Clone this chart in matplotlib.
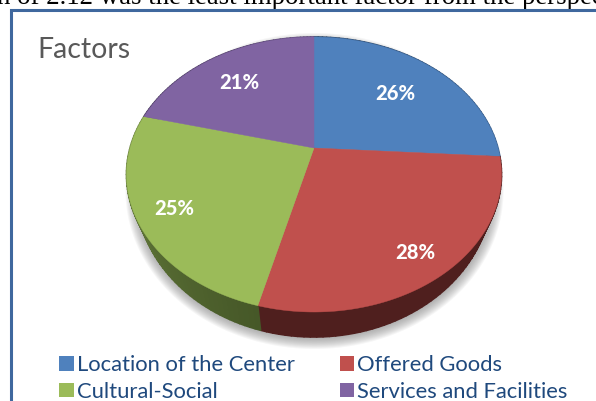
import numpy as np
import matplotlib
matplotlib.use("Agg")
import matplotlib.pyplot as plt
from matplotlib.patches import Polygon, Patch

# data
categories = ["Location of the Center", "Offered Goods", "Cultural-Social", "Services and Facilities"]
values = [26, 28, 25, 21]
title = "Factors"
header_text = "n of 2.12 was the least important factor from the perspective"

# style
colors = ["#4F81BD", "#C0504D", "#9BBB59", "#8064A2"]
side_light = ["#3A5F8C", "#4F1F1E", "#6F8742", "#5E4A78"]
side_dark = ["#2A4566", "#4F1F1E", "#465828", "#45365A"]
label_radius = [0.68, 0.83, 0.80, 0.71]

APEX_X, APEX_Y = 314.0, 148.0
K, A, B = 0.1927, 184.0, 132.4
EC_X, EC_Y, ERX, ERY = 313.5, 174.5, 187.5, 137.5
BC_Y, BRX, BRY = 190.0, 178.0, 147.0


def project(theta, r=1.0):
    u, v = r * np.sin(theta), r * np.cos(theta)
    d = 1 + K * v
    return APEX_X + A * u / d, APEX_Y - B * v / d


def lower(x, y):
    return EC_X + (x - EC_X) * BRX / ERX, BC_Y + (y - EC_Y) * BRY / ERY


fig = plt.figure(figsize=(5.96, 4.01), dpi=100)
ax = fig.add_axes([0, 0, 1, 1])
ax.set_xlim(0, 596)
ax.set_ylim(401, 0)
ax.axis("off")

# document line cut off above the chart
ax.text(-3, 4.5, header_text, family="Liberation Serif", fontsize=19.3, color="black",
        va="baseline", ha="left", clip_on=True, zorder=1)

# chart frame
ax.plot([10.5, 10.5, 600], [405, 9.5, 9.5], color="#3F689E", lw=2.2, solid_joinstyle="miter", zorder=2)
ax.text(37, 49.5, title, family="Lato", fontsize=20.5, color="#595959", va="center", ha="left", zorder=5)

# soft shadow
phi = np.linspace(0, 2 * np.pi, 241)
for i in range(12):
    grow = 11 - i
    sx = EC_X + 1 + (BRX + grow) * np.sin(phi)
    sy = BC_Y + 1 + (BRY + grow) * np.cos(phi)
    ax.add_patch(Polygon(np.c_[sx, sy], closed=True, fc="#808080", ec="none", alpha=0.07, zorder=3))

frac = np.cumsum([0] + values) / sum(values)
angles = 2 * np.pi * frac

# side wall
for i in range(len(values)):
    t = np.linspace(angles[i], angles[i + 1], 61)
    c0 = np.array(matplotlib.colors.to_rgb(side_light[i]))
    c1 = np.array(matplotlib.colors.to_rgb(side_dark[i]))
    for j in range(len(t) - 1):
        x0, y0 = project(t[j:j + 2])
        x1, y1 = lower(x0, y0)
        col = c1 + (c0 - c1) * (j / (len(t) - 2))
        ax.add_patch(Polygon(np.c_[np.r_[x0, x1[::-1]], np.r_[y0, y1[::-1]]], closed=True,
                             fc=col, ec=col, lw=1.2, joinstyle="round", zorder=4))

# top face
handles = []
for i, (name, val) in enumerate(zip(categories, values)):
    t = np.linspace(angles[i], angles[i + 1], 121)
    x, y = project(t)
    ax.add_patch(Polygon(np.c_[np.r_[APEX_X, x], np.r_[APEX_Y, y]], closed=True,
                         fc=colors[i], ec=colors[i], lw=0.3, zorder=5))
    mid = (angles[i] + angles[i + 1]) / 2
    lx, ly = project(mid, label_radius[i])
    ax.text(lx - 2, ly + 2, f"{val}%", family="Lato", fontweight="black", fontsize=14.5, color="white",
            ha="center", va="center", zorder=6)
    handles.append(Patch(fc=colors[i], ec="none", label=name))

order = [0, 2, 1, 3]
leg = ax.legend([handles[i] for i in order], [categories[i] for i in order], ncols=2,
                loc="lower left", bbox_to_anchor=(57 / 596, -3 / 401), frameon=False,
                prop={"family": "Lato", "size": 15.8}, labelcolor="#1F497D",
                handlelength=0.66, handleheight=0.66, handletextpad=0.14,
                columnspacing=2.05, labelspacing=0.29, borderpad=0.1, borderaxespad=0)
leg.set_zorder(7)
fig.savefig("out.png", dpi=100)
